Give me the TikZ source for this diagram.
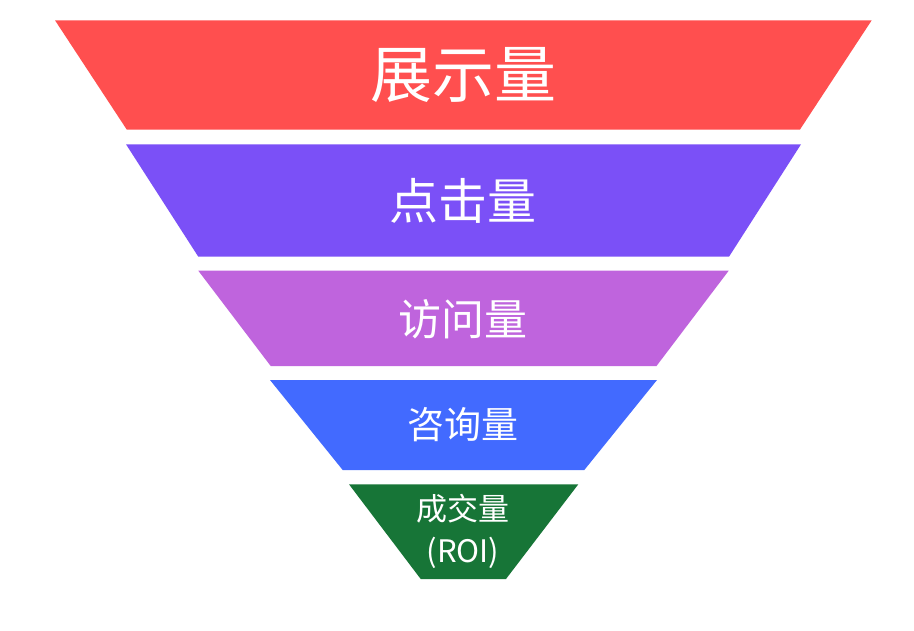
\documentclass[tikz,border=0pt]{standalone}
\usepackage{fontspec}
\newfontfamily\cjk{Noto Sans CJK SC}
\definecolor{cRed}{RGB}{255,79,79}
\definecolor{cPurple}{RGB}{123,80,247}
\definecolor{cOrchid}{RGB}{191,100,221}
\definecolor{cBlue}{RGB}{66,106,255}
\definecolor{cGreen}{RGB}{23,117,55}
\begin{document}
\begin{tikzpicture}[x=1pt,y=-1pt,
  layer/.style={draw=none},
  lbl/.style={text=white,inner sep=0pt,align=center}]
\useasboundingbox (0,0) rectangle (914,630);
\fill[white] (0,0) rectangle (914,630);
\fill[cRed]    (55,20.3)  -- (871.7,20.3) -- (800,129.5) -- (126.7,129.5) -- cycle;
\fill[cPurple] (126,144.3) -- (801,144.3) -- (729,256.7) -- (198.3,256.7) -- cycle;
\fill[cOrchid] (198.3,270.7) -- (728.7,270.7) -- (656.5,366) -- (270.7,366) -- cycle;
\fill[cBlue]   (270,380) -- (657,380) -- (584.3,470) -- (342.7,470) -- cycle;
\fill[cGreen]  (349,484.3) -- (578.3,484.3) -- (506,579) -- (420.7,579) -- cycle;
\node[lbl,font=\cjk\fontsize{62}{66}\selectfont] (t1) at (463,75) {展示量};
\node[lbl,font=\cjk\fontsize{49}{52}\selectfont] (t2) at (463,201) {点击量};
\node[lbl,font=\cjk\fontsize{43}{46}\selectfont] (t3) at (463,319) {访问量};
\node[lbl,font=\cjk\fontsize{37}{40}\selectfont] (t4) at (463,425) {咨询量};
\node[lbl,font=\cjk\fontsize{31}{42}\selectfont] (t5) at (463,531) {成交量\\(ROI)};
\end{tikzpicture}
\end{document}
